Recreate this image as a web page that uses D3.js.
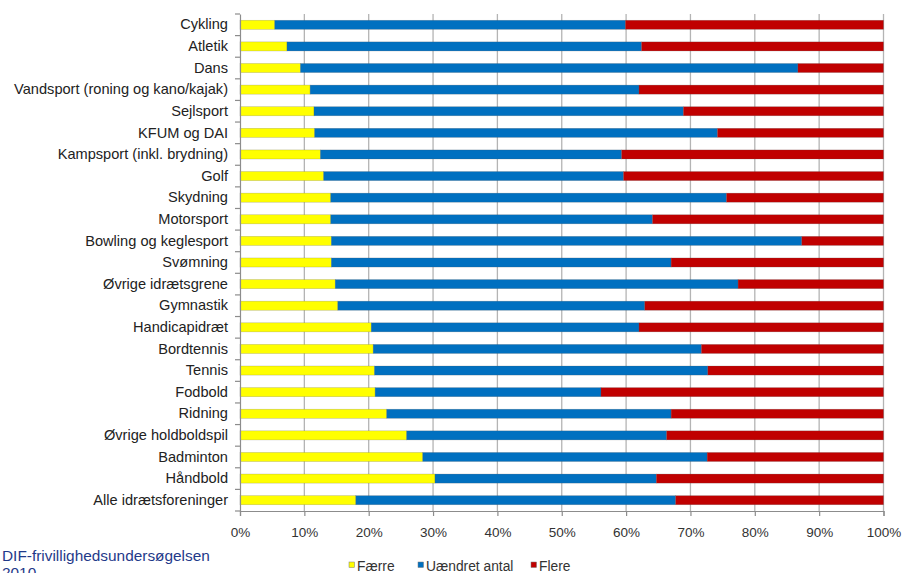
<!DOCTYPE html>
<html>
<head>
<meta charset="utf-8">
<script src="https://cdn.jsdelivr.net/npm/d3@7"></script>
<style>
  html, body { margin: 0; padding: 0; background: #fff; }
  svg { display: block; font-family: "Liberation Sans", Arial, sans-serif; }
</style>
</head>
<body>
<svg id="chart" width="902" height="573"></svg>
<script>
const categories = [
  "Cykling", "Atletik", "Dans", "Vandsport (roning og kano/kajak)", "Sejlsport",
  "KFUM og DAI", "Kampsport (inkl. brydning)", "Golf", "Skydning", "Motorsport",
  "Bowling og keglesport", "Svømning", "Øvrige idrætsgrene", "Gymnastik",
  "Handicapidræt", "Bordtennis", "Tennis", "Fodbold", "Ridning",
  "Øvrige holdboldspil", "Badminton", "Håndbold", "Alle idrætsforeninger"
];
const faerre  = [5.4, 7.3, 9.4, 10.9, 11.5, 11.6, 12.5, 13.0, 14.1, 14.1, 14.2, 14.2, 14.8, 15.2, 20.4, 20.7, 20.9, 21.0, 22.8, 25.9, 28.4, 30.3, 18.0];
const uaendret = [54.5, 55.1, 77.3, 51.1, 57.4, 62.6, 46.8, 46.6, 61.5, 50.0, 73.1, 52.8, 62.6, 47.7, 41.6, 51.0, 51.8, 35.1, 44.2, 40.4, 44.2, 34.4, 49.7];
const flere   = [40.1, 37.6, 13.3, 38.0, 31.1, 25.8, 40.7, 40.4, 24.4, 35.9, 12.7, 33.0, 22.6, 37.1, 38.0, 28.3, 27.3, 43.9, 33.0, 33.7, 27.4, 35.3, 32.3];
const seriesNames = ["Færre", "Uændret antal", "Flere"];
const seriesColors = ["#FFFF00", "#0070C0", "#C00000"];
const tickValues = [0, 10, 20, 30, 40, 50, 60, 70, 80, 90, 100];
const sourceLines = ["DIF-frivillighedsundersøgelsen", "2010"];

(function () {
const rows = categories.map((c, i) => ({ cat: c, "Færre": faerre[i], "Uændret antal": uaendret[i], "Flere": flere[i] }));
const stacked = d3.stack().keys(seriesNames).offset(d3.stackOffsetExpand)(rows);

const svg = d3.select("#chart");
const pLeft = 240, pRight = 883.5, pTop = 14, pBottom = 511;

const x = d3.scaleLinear().domain([0, 1]).range([pLeft, pRight]);
const y = d3.scaleBand().domain(categories).range([pTop, pBottom]).paddingInner(0.58).paddingOuter(0.29);
const yb = d3.scaleBand().domain(categories).range([pTop, pBottom]);

// gridlines
svg.append("g").selectAll("line").data(tickValues.slice(1)).join("line")
  .attr("x1", d => x(d / 100)).attr("x2", d => x(d / 100))
  .attr("y1", pTop).attr("y2", pBottom)
  .attr("stroke", "#b4b4b4").attr("stroke-width", 1.3);

// bars
const color = d3.scaleOrdinal().domain(seriesNames).range(seriesColors);
svg.append("g").selectAll("g").data(stacked).join("g")
  .attr("fill", d => color(d.key))
  .selectAll("rect").data(d => d).join("rect")
  .attr("x", d => x(d[0]))
  .attr("width", d => x(d[1]) - x(d[0]))
  .attr("y", d => y(d.data.cat))
  .attr("height", y.bandwidth())
  .attr("stroke", "rgba(90,90,90,0.35)")
  .attr("stroke-width", 0.6);

// y axis
const yAxis = d3.axisLeft(yb).tickSize(0).tickPadding(12);
const gy = svg.append("g").attr("transform", `translate(${pLeft},0)`).call(yAxis);
gy.select(".domain").attr("stroke", "#8c8c8c").attr("stroke-width", 1.2);
gy.selectAll("text").attr("font-size", 14.6).attr("fill", "#222")
  .attr("font-family", "'Liberation Sans', Arial, sans-serif");
// category boundary ticks
svg.append("g").selectAll("line").data(d3.range(categories.length + 1)).join("line")
  .attr("x1", pLeft - 5).attr("x2", pLeft)
  .attr("y1", i => pTop + i * yb.step()).attr("y2", i => pTop + i * yb.step())
  .attr("stroke", "#8c8c8c").attr("stroke-width", 1.2);

// x axis
const xAxis = d3.axisBottom(x).tickValues(tickValues.map(v => v / 100))
  .tickFormat((d, i) => tickValues[i] + "%").tickSize(5).tickPadding(11);
const gx = svg.append("g").attr("transform", `translate(0,${pBottom})`).call(xAxis);
gx.select(".domain").attr("stroke", "#8c8c8c").attr("stroke-width", 1.2);
gx.selectAll(".tick line").attr("stroke", "#8c8c8c").attr("stroke-width", 1.2);
gx.selectAll("text").attr("font-size", 13.5).attr("fill", "#333")
  .attr("font-family", "'Liberation Sans', Arial, sans-serif");

// legend
const legendItems = [
  { name: seriesNames[0], sx: 349, tx: 357 },
  { name: seriesNames[1], sx: 418, tx: 426 },
  { name: seriesNames[2], sx: 531, tx: 539 }
];
const lg = svg.append("g");
legendItems.forEach((it, i) => {
  lg.append("rect").attr("x", it.sx).attr("y", 562).attr("width", 5.5).attr("height", 5.5)
    .attr("fill", seriesColors[i]).attr("stroke", "#777").attr("stroke-width", 0.5);
  lg.append("text").attr("x", it.tx).attr("y", 570.5).attr("font-size", 13.8).attr("fill", "#333")
    .text(it.name);
});

// source text
svg.append("g").selectAll("text").data(sourceLines).join("text")
  .attr("x", 2).attr("y", (d, i) => 561 + i * 17)
  .attr("font-size", 15.4).attr("fill", "#1f3a8a")
  .text(d => d);
})();
</script>
</body>
</html>
